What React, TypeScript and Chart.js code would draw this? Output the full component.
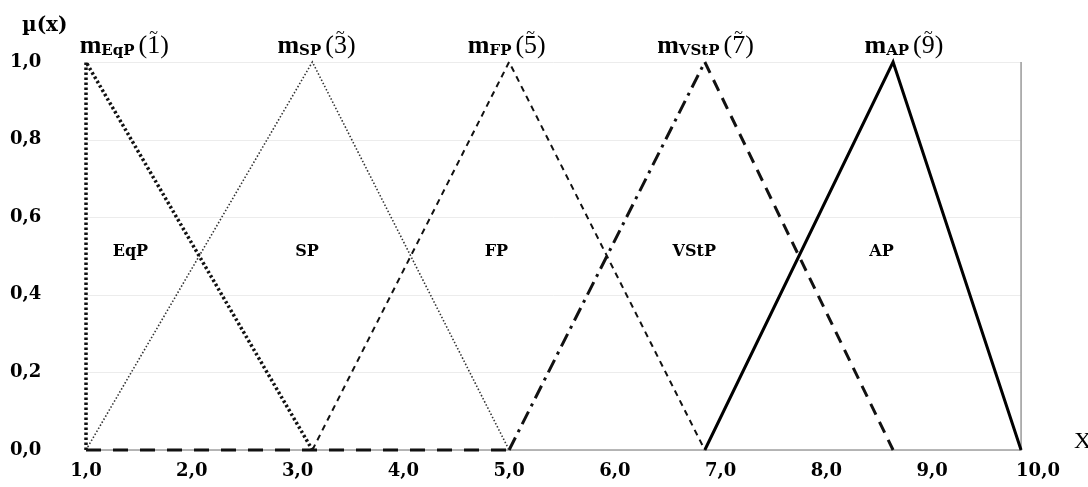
import { useEffect, useRef } from 'react';
import { Chart, registerables } from 'chart.js';

Chart.register(...registerables);

// ---- data ----
const xTickValues = [1, 2, 3, 4, 5, 6, 7, 8, 9, 10];
const yTickValues = [0, 0.2, 0.4, 0.6, 0.8, 1.0];

const eqpX = [1, 1, 3.14];
const eqpY = [0, 1, 0];
const spX = [1, 3.14, 5.0];
const spY = [0, 1, 0];
const fpX = [3.14, 5.0, 6.85];
const fpY = [0, 1, 0];
const vstpX = [1, 5.0, 6.85, 8.63];
const vstpY = [0, 0, 1, 0];
const apX = [6.85, 8.63, 9.84];
const apY = [0, 1, 0];
const frameX = [1, 9.84, 9.84];
const frameY = [0, 0, 1];

const termNames = ['EqP', 'SP', 'FP', 'VStP', 'AP'];
const peakNumbers = ['1', '3', '5', '7', '9'];
const peakLabelX = [0.94, 2.81, 4.61, 6.4, 8.36];
const regionLabelX = [1.42, 3.09, 4.88, 6.75, 8.52];
const regionLabelY = 0.51;

const fmt = (v: number) => Number(v).toFixed(1).replace('.', ',');
const pts = (xs: number[], ys: number[]) => xs.map((x, i) => ({ x, y: ys[i] }));

const textPlugin = {
  id: 'textPlugin',
  beforeDatasetsDraw(chart: any) {
    // faint horizontal grid lines, ending at the right border
    const ctx = chart.ctx;
    const xs = chart.scales.x;
    const ys = chart.scales.y;
    ctx.save();
    ctx.strokeStyle = '#ececec';
    ctx.lineWidth = 1;
    const x0 = xs.getPixelForValue(1);
    const x1 = xs.getPixelForValue(frameX[1]);
    for (const v of yTickValues) {
      const y = Math.round(ys.getPixelForValue(v)) + 0.5;
      ctx.beginPath();
      ctx.moveTo(x0, y);
      ctx.lineTo(x1, y);
      ctx.stroke();
    }
    ctx.restore();
  },
  afterDraw(chart: any) {
    const ctx = chart.ctx;
    const xs = chart.scales.x;
    const ys = chart.scales.y;
    const ca = chart.chartArea;
    ctx.save();
    ctx.fillStyle = '#000';
    // y axis title
    ctx.font = 'bold 20px "DejaVu Serif"';
    ctx.textAlign = 'left';
    ctx.textBaseline = 'alphabetic';
    ctx.fillText('µ(x)', 22, 31);
    // x axis title
    ctx.font = '24px "Liberation Serif"';
    ctx.fillText('X', ca.right + 36, 448);
    // peak labels
    const base = ca.top - 9;
    for (let i = 0; i < termNames.length; i++) {
      let px = xs.getPixelForValue(peakLabelX[i]);
      ctx.font = 'bold 26px "Liberation Serif"';
      ctx.fillText('m', px, base);
      px += ctx.measureText('m').width;
      ctx.font = 'bold 15px "DejaVu Serif"';
      ctx.fillText(termNames[i], px, base + 2);
      px += ctx.measureText(termNames[i]).width + 4;
      ctx.font = '26px "Liberation Serif"';
      ctx.fillText('(', px, base);
      px += ctx.measureText('(').width;
      const dw = ctx.measureText(peakNumbers[i]).width;
      ctx.fillText(peakNumbers[i], px, base);
      const cx = px + dw / 2;
      px += dw;
      ctx.fillText(')', px, base);
      ctx.font = '16px "Liberation Serif"';
      ctx.textAlign = 'center';
      ctx.fillText('~', cx, base - 15);
      ctx.textAlign = 'left';
    }
    // region labels
    ctx.font = 'bold 16px "DejaVu Serif"';
    ctx.textAlign = 'center';
    ctx.textBaseline = 'middle';
    for (let i = 0; i < termNames.length; i++) {
      ctx.fillText(termNames[i], xs.getPixelForValue(regionLabelX[i]), ys.getPixelForValue(regionLabelY));
    }
    ctx.restore();
  },
};

export default function App() {
  const ref = useRef<HTMLCanvasElement | null>(null);
  useEffect(() => {
    if (!ref.current) return;
    const common = { pointRadius: 0, fill: false, tension: 0, clip: false as any };
    const chart = new Chart(ref.current, {
      type: 'line',
      data: {
        datasets: [
          { ...common, label: 'EqP', data: pts(eqpX, eqpY), borderColor: '#111', borderWidth: 3.5, borderDash: [2.5, 2.5] },
          { ...common, label: 'SP', data: pts(spX, spY), borderColor: '#333', borderWidth: 1.6, borderDash: [1.5, 2] },
          { ...common, label: 'FP', data: pts(fpX, fpY), borderColor: '#111', borderWidth: 2, borderDash: [6, 5] },
          {
            ...common, label: 'VStP', data: pts(vstpX, vstpY), borderColor: '#111', borderWidth: 3,
            segment: {
              borderDash: (c: any) => (c.p0DataIndex === 0 ? [15, 12] : c.p0DataIndex === 1 ? [14, 6, 3, 6] : [12, 8]),
            },
          },
          { ...common, label: 'AP', data: pts(apX, apY), borderColor: '#000', borderWidth: 3 },
          { ...common, label: 'frame', data: pts(frameX, frameY), borderColor: '#a0a0a0', borderWidth: 1.6, order: 10 },
        ],
      },
      options: {
        animation: false,
        responsive: true,
        maintainAspectRatio: false,
        layout: { padding: { left: 10, top: 62, right: 50, bottom: 0 } },
        plugins: { legend: { display: false }, tooltip: { enabled: false } },
        scales: {
          x: {
            type: 'linear',
            min: 1,
            max: 10,
            afterBuildTicks: (s: any) => { s.ticks = xTickValues.map((v) => ({ value: v })); },
            afterFit: (s: any) => { s.height = 37; },
            grid: { display: false, drawTicks: false },
            border: { display: false },
            ticks: {
              padding: 11,
              color: '#000',
              font: { family: '"DejaVu Serif"', weight: 'bold', size: 18 },
              callback: (v: any) => fmt(v),
              maxRotation: 0,
              autoSkip: false,
            },
          },
          y: {
            type: 'linear',
            min: 0,
            max: 1,
            afterBuildTicks: (s: any) => { s.ticks = yTickValues.map((v) => ({ value: v })); },
            afterFit: (s: any) => { s.width = 76; },
            grid: { display: false, drawTicks: false },
            border: { display: false },
            ticks: {
              crossAlign: 'far',
              color: '#000',
              font: { family: '"DejaVu Serif"', weight: 'bold', size: 18 },
              callback: (v: any) => fmt(v),
            },
          },
        },
      },
      plugins: [textPlugin],
    } as any);
    return () => chart.destroy();
  }, []);
  return (
    <div style={{ position: 'fixed', left: 0, top: 0, width: 1088, height: 487, background: '#fff' }}>
      <canvas ref={ref} />
    </div>
  );
}
